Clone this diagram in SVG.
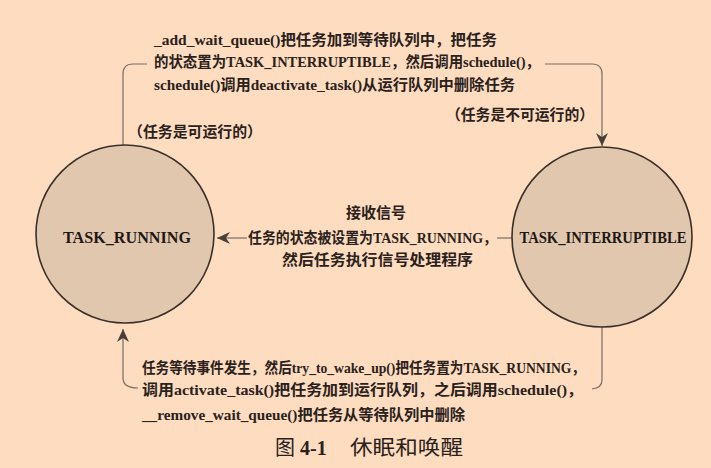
<svg xmlns="http://www.w3.org/2000/svg" width="711" height="468" viewBox="0 0 711 468">
<style>
.t{font-family:"Liberation Serif","Noto Sans CJK SC",serif;font-size:15px;font-weight:bold;fill:#2a211c}
.n{font-family:"Liberation Serif","Noto Sans CJK SC",serif;font-size:16px;font-weight:bold;fill:#1e1814}
.cap{font-family:"Liberation Serif","Noto Sans CJK SC",serif;font-size:20px;fill:#2a211c}
.c{fill:#e2c7af;stroke:#3a302b;stroke-width:1.6}
.e{fill:none;stroke:#7a6c62;stroke-width:1.2}
</style>
<defs>
<marker id="ah" markerUnits="userSpaceOnUse" markerWidth="14" markerHeight="12" refX="13" refY="6" orient="auto">
<path d="M0,0 L13,6 L0,12 L4,6 Z" fill="#4a3f38"/>
</marker>
</defs>
<rect width="711" height="468" fill="#fddcbf"/>
<g id="edges">
<path class="e" d="M123,145 V74 Q123,64 133,64 H147"/>
<path class="e" d="M545,64 H592 Q602,64 602,74 V146" marker-end="url(#ah)"/>
<path class="e" d="M512,238 H497"/>
<path class="e" d="M247,238 H217" marker-end="url(#ah)"/>
<path class="e" d="M602,327 V380 Q602,388 592,389"/>
<path class="e" d="M138,388 Q123,388 123,378 V329" marker-end="url(#ah)"/>
</g>
<g id="node-running">
<circle class="c" cx="125" cy="234" r="89"/>
<text class="n" x="127" y="243" text-anchor="middle" textLength="128" lengthAdjust="spacingAndGlyphs">TASK_RUNNING</text>
</g>
<g id="node-interruptible">
<circle class="c" cx="602" cy="237" r="90"/>
<text class="n" x="603" y="243" text-anchor="middle" textLength="167" lengthAdjust="spacingAndGlyphs">TASK_INTERRUPTIBLE</text>
</g>
<g id="label-top">
<text class="t" x="154" y="45" textLength="343" lengthAdjust="spacingAndGlyphs">_add_wait_queue()把任务加到等待队列中，把任务</text>
<text class="t" x="154" y="67" textLength="386" lengthAdjust="spacingAndGlyphs">的状态置为TASK_INTERRUPTIBLE，然后调用schedule()，</text>
<text class="t" x="154" y="90" textLength="361" lengthAdjust="spacingAndGlyphs">schedule()调用deactivate_task()从运行队列中删除任务</text>
<text class="t" x="446" y="120" textLength="148" lengthAdjust="spacingAndGlyphs">（任务是不可运行的）</text>
<text class="t" x="128" y="137" textLength="134" lengthAdjust="spacingAndGlyphs">（任务是可运行的）</text>
</g>
<g id="label-middle">
<text class="t" x="376" y="218" text-anchor="middle">接收信号</text>
<text class="t" x="248" y="243" textLength="249" lengthAdjust="spacingAndGlyphs">任务的状态被设置为TASK_RUNNING，</text>
<text class="t" x="282" y="265" textLength="191" lengthAdjust="spacingAndGlyphs">然后任务执行信号处理程序</text>
</g>
<g id="label-bottom">
<text class="t" x="142" y="373" textLength="443" lengthAdjust="spacingAndGlyphs">任务等待事件发生，然后try_to_wake_up()把任务置为TASK_RUNNING，</text>
<text class="t" x="142" y="395" textLength="441" lengthAdjust="spacingAndGlyphs">调用activate_task()把任务加到运行队列，之后调用schedule()，</text>
<text class="t" x="142" y="420" textLength="323" lengthAdjust="spacingAndGlyphs">__remove_wait_queue()把任务从等待队列中删除</text>
</g>
<g id="caption">
<text class="cap" x="275" y="455">图 <tspan font-weight="bold">4-1</tspan></text>
<text class="cap" x="350" y="455" textLength="113" lengthAdjust="spacingAndGlyphs">休眠和唤醒</text>
</g>
</svg>
